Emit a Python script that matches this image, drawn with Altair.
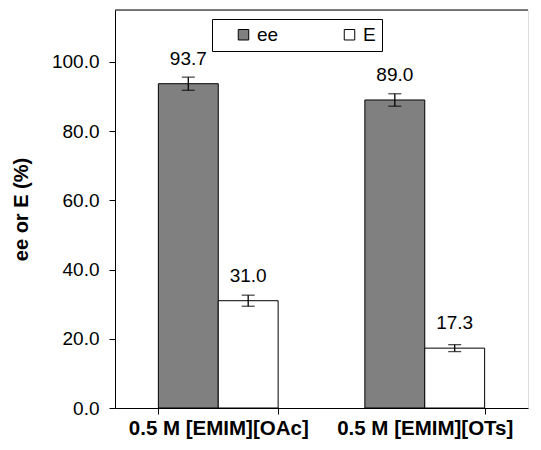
import altair as alt
import pandas as pd

categories = ["0.5 M [EMIM][OAc]", "0.5 M [EMIM][OTs]"]
series = ["ee", "E"]
ee_values = [93.7, 89.0]
E_values = [31.0, 17.3]
ee_err = [1.9, 1.8]
E_err = [1.6, 1.0]
y_ticks = [0, 20, 40, 60, 80, 100]

rows = []
for i, c in enumerate(categories):
    rows.append({"cat": c, "series": "ee", "value": ee_values[i], "err": ee_err[i]})
    rows.append({"cat": c, "series": "E", "value": E_values[i], "err": E_err[i]})
df = pd.DataFrame(rows)
df["lo"] = df["value"] - df["err"]
df["hi"] = df["value"] + df["err"]
df["label"] = df["value"].map(lambda v: f"{v:.1f}")

FONT = "Liberation Sans"

x_enc = alt.X(
    "cat:N",
    sort=categories,
    scale=alt.Scale(paddingInner=0.42, paddingOuter=0.21),
    axis=alt.Axis(
        title=None, labelAngle=0, tickBand="extent", labelFontSize=20.5,
        labelFontWeight="bold", labelFont=FONT, labelColor="black",
        tickSize=6, tickColor="black", domainColor="black", labelPadding=4,
    ),
)
xo = alt.XOffset("series:N", sort=series, scale=alt.Scale(paddingInner=0, paddingOuter=0))
y_scale = alt.Scale(domain=[0, 115], nice=False)

base = alt.Chart(df)

bars = base.mark_bar(stroke="black", strokeWidth=1).encode(
    x=x_enc,
    xOffset=xo,
    y=alt.Y(
        "value:Q",
        scale=y_scale,
        axis=alt.Axis(
            values=y_ticks, format=".1f", title="ee or E (%)", titleFontSize=20,
            titleFontWeight="bold", titleFont=FONT, titleColor="black",
            labelFontSize=19, labelFont=FONT, labelColor="black", tickSize=6,
            tickColor="black", domainColor="black", labelPadding=10,
            titlePadding=20, grid=False,
        ),
    ),
    fill=alt.Fill(
        "series:N",
        sort=series,
        scale=alt.Scale(domain=series, range=["#808080", "#ffffff"]),
        legend=alt.Legend(
            title=None, orient="none", legendX=97, legendY=9, direction="horizontal",
            strokeColor="black", fillColor="white", padding=6, symbolType="square",
            symbolSize=110, symbolStrokeColor="black", symbolStrokeWidth=1,
            labelFontSize=19, labelFont=FONT, labelColor="black", symbolOffset=16,
            columnPadding=45, labelExpr="datum.label + '      '",
        ),
    ),
)

err_rule = base.mark_rule(color="black", strokeWidth=1.3).encode(
    x=alt.X("cat:N", sort=categories), xOffset=xo,
    y=alt.Y("lo:Q", scale=y_scale), y2="hi:Q",
)
cap_lo = base.mark_tick(color="black", thickness=1.3, size=13, orient="horizontal").encode(
    x=alt.X("cat:N", sort=categories), xOffset=xo, y=alt.Y("lo:Q", scale=y_scale),
)
cap_hi = base.mark_tick(color="black", thickness=1.3, size=13, orient="horizontal").encode(
    x=alt.X("cat:N", sort=categories), xOffset=xo, y=alt.Y("hi:Q", scale=y_scale),
)
labels = base.mark_text(dy=-19, baseline="alphabetic", fontSize=19, font=FONT, color="black").encode(
    x=alt.X("cat:N", sort=categories), xOffset=xo, y=alt.Y("value:Q", scale=y_scale),
    text="label:N",
)
top_rule = alt.Chart(pd.DataFrame({"top": [115]})).mark_rule(color="black", strokeWidth=1).encode(
    y=alt.Y("top:Q", scale=y_scale)
)

chart = (
    alt.layer(bars, err_rule, cap_lo, cap_hi, labels, top_rule)
    .properties(
        width=413, height=398,
        autosize=alt.AutoSizeParams(type="none"),
        padding={"left": 107, "top": 2, "right": 5, "bottom": 34},
    )
    .configure_view(stroke=None)
    .configure(background="white")
)

chart.save("out.html", embed_options={"renderer": "svg", "actions": False})
